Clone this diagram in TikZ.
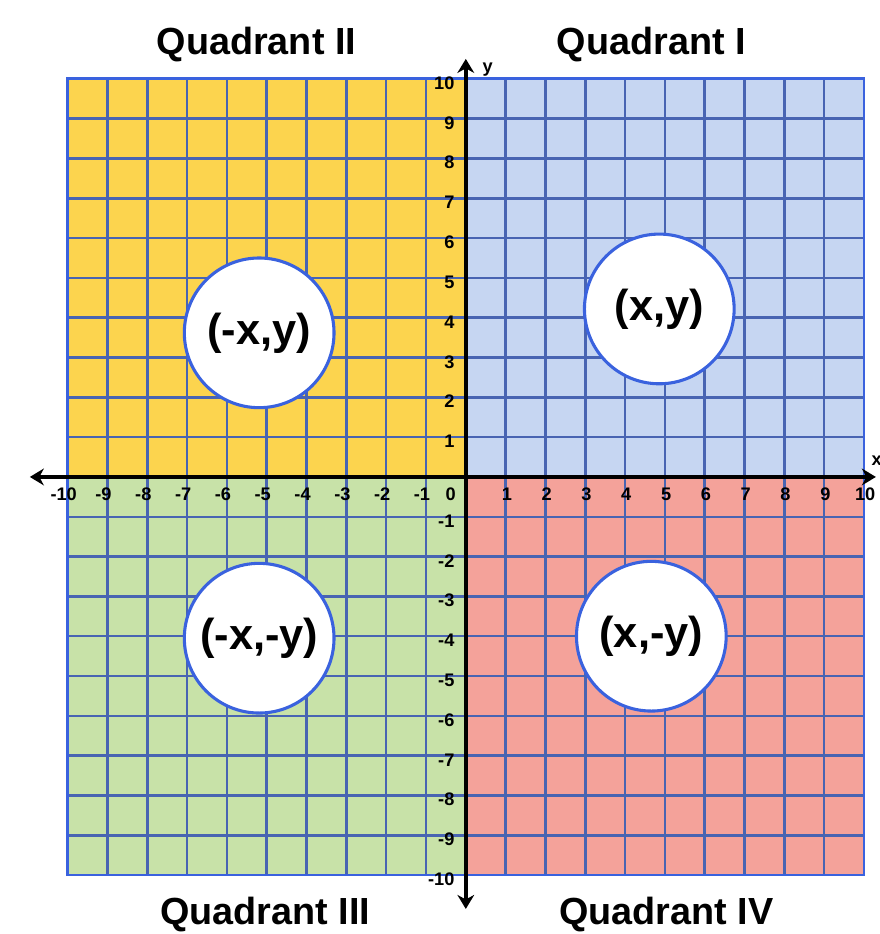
\documentclass[tikz,border=0pt]{standalone}
\usepackage{fontspec}
\setmainfont{Liberation Sans}
\usetikzlibrary{arrows.meta}
\definecolor{qone}{RGB}{198,214,242}
\definecolor{qtwo}{RGB}{252,212,78}
\definecolor{qthree}{RGB}{200,226,168}
\definecolor{qfour}{RGB}{244,162,154}
\definecolor{gridblue}{RGB}{72,100,178}
\definecolor{edgeblue}{RGB}{58,98,222}
\tikzset{quadtitle/.style={font=\fontsize{27}{30}\selectfont\bfseries,inner sep=0pt},
pointlbl/.style={circle,draw=edgeblue,line width=2.2pt,fill=white,minimum size=3.76cm,inner sep=0pt,font=\fontsize{31}{34}\selectfont\bfseries},
ticklbl/.style={font=\fontsize{13}{14}\selectfont\bfseries,inner sep=0pt,text height=9.3pt,text depth=0pt},
axis/.style={line width=3.2pt,{Stealth[length=10pt,width=12pt]}-{Stealth[length=10pt,width=12pt]}}}
\begin{document}
\begin{tikzpicture}
\useasboundingbox[fill=white](-11.70,-11.48)rectangle(10.40,11.98);
\fill[qtwo](-10,0)rectangle(0,10);\fill[qone](0,0)rectangle(10,10);\fill[qthree](-10,-10)rectangle(0,0);\fill[qfour](0,-10)rectangle(10,0);
\draw[gridblue,line width=1.8pt](-10,-10)grid(10,10);
\draw[edgeblue,line width=2pt](-10,-10)rectangle(10,10);
% axes
\coordinate(xl)at(-10.95,0);\coordinate(xr)at(10.3,0);\coordinate(yt)at(0,10.5);\coordinate(yb)at(0,-10.85);
\draw[axis](xl)--(xr);\draw[axis](yb)--(yt);
\node[ticklbl](xlbl)at(10.32,0.45){x};\node[ticklbl](ylbl)at(0.55,10.33){y};
% tick numbers
\foreach \k in {1,...,10}{\node[ticklbl](xp\k)at(\k+0.03,-0.42){\k};\node[ticklbl](xn\k)at(-\k-0.1,-0.42){-\k};}
\foreach \k in {1,...,10}{\node[ticklbl,anchor=east](yp\k)at(-0.28,\k-0.1){\k};\node[ticklbl,anchor=east](yn\k)at(-0.28,-\k-0.1){-\k};}
\node[ticklbl](orig)at(-0.38,-0.42){0};
% quadrant points
\node[pointlbl](pI)at(4.86,4.22){(x,y)};\node[pointlbl](pII)at(-5.19,3.62){(-x,y)};
\node[pointlbl](pIII)at(-5.19,-4.05){(-x,-y)};\node[pointlbl](pIV)at(4.66,-4.0){(x,-y)};
\node[quadtitle](tII)at(-5.26,10.86){Quadrant II};\node[quadtitle](tI)at(4.66,10.86){Quadrant I};
\node[quadtitle](tIII)at(-5.04,-11.0){Quadrant III};\node[quadtitle](tIV)at(5.04,-11.0){Quadrant IV};
\end{tikzpicture}
\end{document}
